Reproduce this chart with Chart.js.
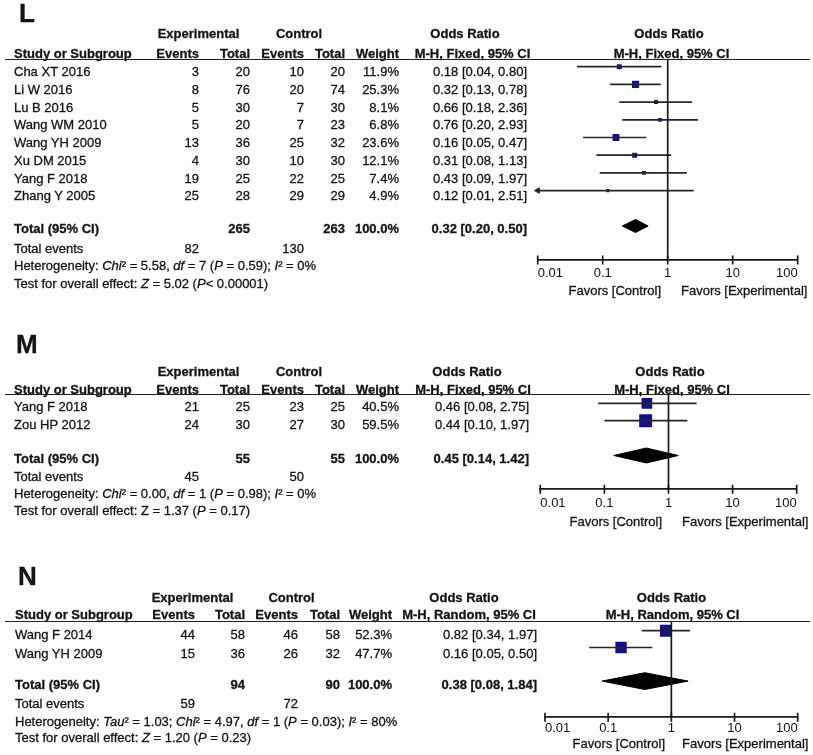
<!DOCTYPE html>
<html>
<head>
<meta charset="utf-8">
<script src="https://cdn.jsdelivr.net/npm/chart.js@4.4.0/dist/chart.umd.min.js"></script>
<style>
  body { margin: 0; background: #fff; }
  #page { position: relative; width: 813px; height: 755px; overflow: hidden;
          font-family: Arial, "Liberation Sans", sans-serif; color: #141414; }
  canvas { position: absolute; left: 0; top: 0; }
  .t { position: absolute; white-space: nowrap; font-size: 13px; -webkit-text-stroke: 0.3px #141414; }
  .b { font-weight: bold; }
  .rule { position: absolute; left: 5px; width: 805px; height: 0; border-top: 1.6px solid #222; }
</style>
</head>
<body>
<div id="page">
  <canvas id="chartL" width="813" height="755"></canvas>
  <canvas id="chartM" width="813" height="755"></canvas>
  <canvas id="chartN" width="813" height="755"></canvas>
</div>
<script>
// axis of every forest plot
const tickValues = [0.01, 0.1, 1, 10, 100];
const tickLabels = ['0.01', '0.1', '1', '10', '100'];

// L
const studiesL = ['Cha XT 2016', 'Li W 2016', 'Lu B 2016', 'Wang WM 2010', 'Wang YH 2009', 'Xu DM 2015', 'Yang F 2018', 'Zhang Y 2005'];
const expEventsL = [3, 8, 5, 5, 13, 4, 19, 25];
const expTotalL = [20, 76, 30, 20, 36, 30, 25, 28];
const ctlEventsL = [10, 20, 7, 7, 25, 10, 22, 29];
const ctlTotalL = [20, 74, 30, 23, 32, 30, 25, 29];
const weightL = [11.9, 25.3, 8.1, 6.8, 23.6, 12.1, 7.4, 4.9];
const orL = [0.18, 0.32, 0.66, 0.76, 0.16, 0.31, 0.43, 0.12];
const lowerL = [0.04, 0.13, 0.18, 0.20, 0.05, 0.08, 0.09, 0.01];
const upperL = [0.80, 0.78, 2.36, 2.93, 0.47, 1.13, 1.97, 2.51];
const totalsL = [265, 263];
const totalEventsL = [82, 130];
const pooledL = [0.32, 0.20, 0.50];
const hetL = 'Heterogeneity: <i>Chi</i>² = 5.58, <i>df</i> = 7 (<i>P</i> = 0.59); <i>I</i>² = 0%';
const testL = 'Test for overall effect: <i>Z</i> = 5.02 (<i>P</i>&lt; 0.00001)';

// M
const studiesM = ['Yang F 2018', 'Zou HP 2012'];
const expEventsM = [21, 24];
const expTotalM = [25, 30];
const ctlEventsM = [23, 27];
const ctlTotalM = [25, 30];
const weightM = [40.5, 59.5];
const orM = [0.46, 0.44];
const lowerM = [0.08, 0.10];
const upperM = [2.75, 1.97];
const totalsM = [55, 55];
const totalEventsM = [45, 50];
const pooledM = [0.45, 0.14, 1.42];
const hetM = 'Heterogeneity: <i>Chi</i>² = 0.00, <i>df</i> = 1 (<i>P</i> = 0.98); <i>I</i>² = 0%';
const testM = 'Test for overall effect: Z = 1.37 (<i>P</i> = 0.17)';

// N
const studiesN = ['Wang F 2014', 'Wang YH 2009'];
const expEventsN = [44, 15];
const expTotalN = [58, 36];
const ctlEventsN = [46, 26];
const ctlTotalN = [58, 32];
const weightN = [52.3, 47.7];
const orN = [0.82, 0.16];
const lowerN = [0.34, 0.05];
const upperN = [1.97, 0.50];
const totalsN = [94, 90];
const totalEventsN = [59, 72];
const pooledN = [0.38, 0.08, 1.84];
const hetN = 'Heterogeneity: <i>Tau</i>² = 1.03; <i>Chi</i>² = 4.97, <i>df</i> = 1 (<i>P</i> = 0.03); <i>I</i>² = 80%';
const testN = 'Test for overall effect: <i>Z</i> = 1.20 (<i>P</i> = 0.23)';

const page = document.getElementById('page');
const squareColor = '#12128a';
const inkColor = '#1a1a1a';

// place a text so that its capital letters are centred on y
function put(x, y, html, align, bold, size) {
  size = size || 13;
  const lh = Math.round(size * 1.25);
  const d = document.createElement('div');
  d.className = 't' + (bold ? ' b' : '');
  d.style.fontSize = size + 'px';
  d.style.lineHeight = lh + 'px';
  d.innerHTML = html;
  d.style.top = (y - ((lh - size * 1.149) / 2 + size * 0.547)) + 'px';
  if (align === 'right') d.style.right = (813 - x) + 'px';
  else if (align === 'center') { d.style.left = x + 'px'; d.style.transform = 'translateX(-50%)'; }
  else d.style.left = x + 'px';
  page.appendChild(d);
}

function ci(v, lo, hi) {
  return v.toFixed(2) + ' [' + lo.toFixed(2) + ', ' + hi.toFixed(2) + ']';
}

function drawTable(d, g) {
  const c = g.cols;
  put(g.letterX, g.letterY, d.letter, 'left', true, 26);
  put(g.expC, g.groupY, 'Experimental', 'center', true);
  put(g.ctlC, g.groupY, 'Control', 'center', true);
  put(g.orHeadC, g.groupY, 'Odds Ratio', 'center', true);
  put(g.plotHeadC, g.groupY, 'Odds Ratio', 'center', true);

  put(c.study, g.headY, 'Study or Subgroup', 'left', true);
  put(c.evE, g.headY, 'Events', 'right', true);
  put(c.totE, g.headY, 'Total', 'right', true);
  put(c.evC, g.headY, 'Events', 'right', true);
  put(c.totC, g.headY, 'Total', 'right', true);
  put(c.wt, g.headY, 'Weight', 'right', true);
  put(g.orSubC, g.headY, d.method, 'center', true);
  put(g.plotSubC, g.headY, d.method, 'center', true);

  const rule = document.createElement('div');
  rule.className = 'rule';
  rule.style.top = (g.lineY - 0.8) + 'px';
  page.appendChild(rule);

  d.studies.forEach((s, i) => {
    const y = g.rowY0 + i * g.rowStep;
    put(c.study, y, s, 'left');
    put(c.evE, y, d.expEvents[i], 'right');
    put(c.totE, y, d.expTotal[i], 'right');
    put(c.evC, y, d.ctlEvents[i], 'right');
    put(c.totC, y, d.ctlTotal[i], 'right');
    put(c.wt, y, d.weight[i].toFixed(1) + '%', 'right');
    put(c.orv, y, ci(d.or[i], d.lower[i], d.upper[i]), 'right');
  });

  put(c.study, g.totalY, 'Total (95% CI)', 'left', true);
  put(c.totE, g.totalY, d.totals[0], 'right', true);
  put(c.totC, g.totalY, d.totals[1], 'right', true);
  put(c.wt, g.totalY, '100.0%', 'right', true);
  put(c.orv, g.totalY, ci(d.pooled[0], d.pooled[1], d.pooled[2]), 'right', true);

  put(c.study, g.eventsY, 'Total events', 'left');
  put(c.evE, g.eventsY, d.totalEvents[0], 'right');
  put(c.evC, g.eventsY, d.totalEvents[1], 'right');
  put(c.study, g.hetY, d.het, 'left');
  put(c.study, g.testY, d.test, 'left');

  put(g.favCtlRight, g.favY, 'Favors [Control]', 'right');
  put(g.favExpLeft, g.favY, 'Favors [Experimental]', 'left');
}

function drawForest(id, d, p) {
  const n = d.or.length;
  const yMin = (p.top - p.row0) / p.step;
  const yMax = (p.axisY - p.row0) / p.step;
  const T = n + 1;
  const ds = [];

  // line of no effect
  ds.push({ data: [{ x: 1, y: yMin }, { x: 1, y: yMax }], showLine: true,
            borderColor: inkColor, borderWidth: 1.7, pointRadius: 0 });

  // confidence intervals
  d.or.forEach((v, i) => {
    ds.push({ data: [{ x: d.lower[i], y: i }, { x: d.upper[i], y: i }], showLine: true,
              borderColor: '#262626', borderWidth: 1.7, pointRadius: 0 });
  });

  // arrows where the interval runs off the axis
  const arrows = [];
  d.lower.forEach((v, i) => { if (v <= tickValues[0]) arrows.push({ x: tickValues[0], y: i }); });
  ds.push({ data: arrows, pointStyle: 'triangle', pointRotation: -90, pointRadius: 3.2,
            pointBackgroundColor: '#262626', pointBorderColor: '#262626', pointBorderWidth: 1, clip: false });

  // study estimates, square size by weight
  ds.push({ data: d.or.map((v, i) => ({ x: v, y: i })), pointStyle: 'rect',
            pointRadius: d.weight.map(w => p.k * Math.sqrt(w) / Math.SQRT2),
            pointBackgroundColor: squareColor, pointBorderColor: squareColor, pointBorderWidth: 0 });

  // pooled estimate diamond
  const h = p.diaH;
  ds.push({ data: [
      { x: d.pooled[1], y: T }, { x: d.pooled[0], y: T - h },
      { x: d.pooled[2], y: T }, { x: d.pooled[0], y: T + h }, { x: d.pooled[1], y: T }],
    showLine: true, fill: 'shape', backgroundColor: '#000', borderColor: '#000',
    borderWidth: 1, pointRadius: 0 });

  // tick marks crossing the axis
  ds.push({ data: tickValues.map(v => ({ x: v, y: yMax })), pointStyle: 'line', pointRotation: 90,
            pointRadius: 4.5, pointBorderColor: inkColor, pointBorderWidth: 1.7, clip: false });

  new Chart(document.getElementById(id), {
    type: 'scatter',
    data: { datasets: ds },
    options: {
      responsive: false,
      animation: false,
      events: [],
      layout: { padding: { left: p.left, right: 813 - p.right, top: p.top, bottom: 755 - p.axisY - 30 } },
      plugins: { legend: { display: false }, tooltip: { enabled: false } },
      scales: {
        x: {
          type: 'logarithmic',
          min: tickValues[0],
          max: tickValues[tickValues.length - 1],
          afterBuildTicks: s => { s.ticks = tickValues.map(v => ({ value: v })); },
          afterFit: s => { s.height = 30; },
          grid: { display: true, drawOnChartArea: false, drawTicks: false },
          border: { display: true, color: inkColor, width: 1.7 },
          ticks: {
            autoSkip: false, maxRotation: 0, align: 'inner', padding: p.tickPad,
            color: '#111', font: { family: 'Arial, "Liberation Sans", sans-serif', size: 13 },
            callback: (v, i) => tickLabels[i]
          }
        },
        y: { type: 'linear', display: false, reverse: true, min: yMin, max: yMax }
      }
    }
  });
}

const panelL = { letter: 'L', method: 'M-H, Fixed, 95% CI', studies: studiesL, expEvents: expEventsL,
  expTotal: expTotalL, ctlEvents: ctlEventsL, ctlTotal: ctlTotalL, weight: weightL, or: orL,
  lower: lowerL, upper: upperL, totals: totalsL, totalEvents: totalEventsL, pooled: pooledL, het: hetL, test: testL };
const panelM = { letter: 'M', method: 'M-H, Fixed, 95% CI', studies: studiesM, expEvents: expEventsM,
  expTotal: expTotalM, ctlEvents: ctlEventsM, ctlTotal: ctlTotalM, weight: weightM, or: orM,
  lower: lowerM, upper: upperM, totals: totalsM, totalEvents: totalEventsM, pooled: pooledM, het: hetM, test: testM };
const panelN = { letter: 'N', method: 'M-H, Random, 95% CI', studies: studiesN, expEvents: expEventsN,
  expTotal: expTotalN, ctlEvents: ctlEventsN, ctlTotal: ctlTotalN, weight: weightN, or: orN,
  lower: lowerN, upper: upperN, totals: totalsN, totalEvents: totalEventsN, pooled: pooledN, het: hetN, test: testN };

drawTable(panelL, {
  letterX: 19, letterY: 12.5, groupY: 34, headY: 53.3, lineY: 60,
  rowY0: 71.7, rowStep: 17.75, totalY: 229, eventsY: 248.3, hetY: 266, testY: 283.7,
  cols: { study: 14, evE: 199, totE: 250, evC: 304, totC: 345, wt: 399, orv: 527 },
  expC: 198.5, ctlC: 299, orHeadC: 465, orSubC: 472.5, plotHeadC: 669, plotSubC: 671.5,
  favY: 291, favCtlRight: 661, favExpLeft: 681
});
drawTable(panelM, {
  letterX: 16, letterY: 344, groupY: 371.7, headY: 389.5, lineY: 394.5,
  rowY0: 406.7, rowStep: 18.3, totalY: 458.3, eventsY: 476.7, hetY: 493.3, testY: 511,
  cols: { study: 14, evE: 199, totE: 250, evC: 304, totC: 345, wt: 399, orv: 529 },
  expC: 198.5, ctlC: 299, orHeadC: 467, orSubC: 473, plotHeadC: 670, plotSubC: 672,
  favY: 521.7, favCtlRight: 662, favExpLeft: 682
});
drawTable(panelN, {
  letterX: 18, letterY: 575.8, groupY: 597.7, headY: 615, lineY: 621.7,
  rowY0: 635, rowStep: 18.3, totalY: 685, eventsY: 703.3, hetY: 721.7, testY: 737.7,
  cols: { study: 15, evE: 195, totE: 245, evC: 298, totC: 340, wt: 392, orv: 537 },
  expC: 192.5, ctlC: 291.5, orHeadC: 464, orSubC: 469, plotHeadC: 671.5, plotSubC: 672.5,
  favY: 743.3, favCtlRight: 665, favExpLeft: 682
});

drawForest('chartL', panelL, { left: 537.7, right: 797.7, top: 60, axisY: 260, row0: 66.7, step: 17.7, tickPad: 6, diaH: 0.37, k: 1.42 });
drawForest('chartM', panelM, { left: 540.3, right: 796.7, top: 394.5, axisY: 489.3, row0: 403.3, step: 17.4, tickPad: 6, diaH: 0.43, k: 1.68 });
drawForest('chartN', panelN, { left: 545, right: 797.7, top: 621.7, axisY: 717.3, row0: 630.7, step: 16.8, tickPad: 3, diaH: 0.5, k: 1.65 });
</script>
</body>
</html>
